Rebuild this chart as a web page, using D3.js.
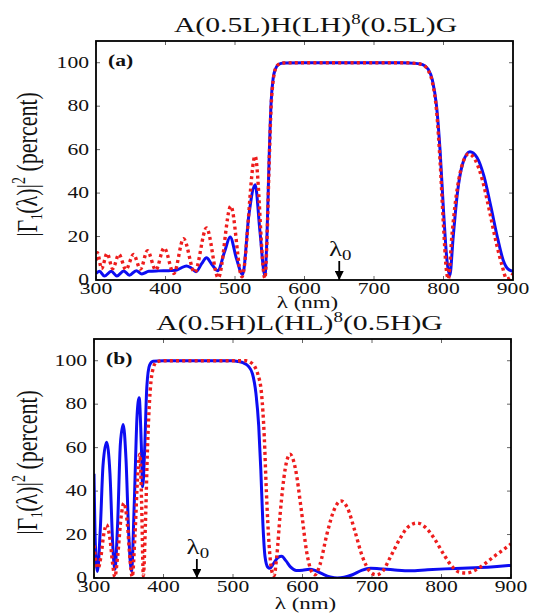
<!DOCTYPE html>
<html lang='en'>

<head>
   <meta charset='UTF-8'>
   <title>Reflectance of the two stacks</title>
   <script src='https://d3js.org/d3.v7.min.js'></script>
   <style>
      body {
         margin: 0;
         background: #fff;
      }

      svg {
         display: block;
      }

      text {
         font-family: 'Liberation Serif', 'DejaVu Serif', 'Times New Roman', serif;
         fill: #111;
      }
   </style>
</head>

<body>
   <div id='chart'></div>
   <script>

      // axis ticks
      const xTicks = [300, 400, 500, 600, 700, 800, 900];
      const yTicks = [0, 20, 40, 60, 80, 100];

      // titles: [before superscript, superscript, after]
      const titleA = ['A(0.5L)H(LH)', '8', '(0.5L)G'];
      const titleB = ['A(0.5H)L(HL)', '8', '(0.5H)G'];

      // centre wavelength marked with the arrow (nm)
      const lambda0A = 650;
      const lambda0B = 448;

      // [wavelength nm, |Γ1|² percent]
      const blueA = [
         [300, 3.0], [305, 4.0], [312, 1.8], [322, 4.0], [330, 1.8], [340, 4.2], [348, 2.2], [358, 4.3],
         [366, 2.8], [376, 4.0], [390, 4.2], [405, 4.3], [415, 4.5], [422, 5.5], [430, 6.5], [437, 5.5],
         [444, 3.8], [452, 7.5], [459, 10.2], [466, 7.5], [475, 4.3], [485, 13], [493, 19.8], [502, 10],
         [511, 2.5], [520, 30], [529, 43.8], [536, 22], [543, 2], [546, 20], [549, 55], [552, 82],
         [555, 93], [558, 97], [563, 99.3], [570, 99.9], [600, 100], [740, 100], [760, 99.7], [770, 99.1],
         [778, 97], [784, 92], [790, 80], [795, 60], [800, 32], [805, 9], [809, 2], [814, 20],
         [820, 40], [828, 54], [838, 59], [848, 56.5], [858, 48], [868, 34], [878, 19], [886, 9],
         [893, 5], [900, 4]
      ];
      const redA = [
         [300, 9], [302, 12.6], [308, 5.2], [316, 12.2], [324, 5.2], [333, 11.8], [343, 4.8], [354, 11.8],
         [364, 5], [374, 13.5], [386, 4.6], [398, 14.8], [412, 3], [426, 19], [442, 3.5], [459, 24],
         [476, 1], [494, 34], [510, 1.5], [529, 57], [543, 0.8], [546, 18], [549, 52], [552, 80],
         [555, 92], [558, 97], [563, 99.3], [570, 99.9], [600, 100], [740, 100], [760, 99.7], [770, 99],
         [778, 96.5], [784, 91], [790, 78], [795, 55], [800, 25], [804, 5], [807, 0.5], [812, 20],
         [818, 38], [826, 52], [836, 58], [846, 55], [856, 46], [866, 32], [876, 17], [884, 7],
         [891, 0.5], [896, 1], [900, 3]
      ];
      const blueB = [
         [300, 48], [302, 15], [305, 3], [309, 22], [313, 52], [318, 62.5], [323, 48], [327, 15],
         [330, 4], [334, 25], [338, 62], [342, 70.7], [346, 55], [350, 20], [354, 3], [358, 35],
         [362, 75], [365, 83], [368, 62], [370, 42], [373, 60], [376, 88], [380, 98], [385, 99.8],
         [400, 100], [500, 100], [508, 99.6], [515, 99], [522, 97.5], [528, 94], [533, 85], [537, 70],
         [540, 50], [543, 25], [546, 10], [550, 5], [553, 4.5], [558, 6.5], [565, 9.5], [570, 10],
         [576, 8], [583, 5], [591, 3.5], [600, 3.6], [610, 4], [618, 3.5], [628, 2], [640, 0.5],
         [650, 0], [660, 0.3], [672, 1.5], [685, 3.5], [698, 4.5], [710, 4.3], [730, 3.8], [755, 3.3],
         [780, 3.8], [805, 4.2], [830, 4.5], [855, 4.8], [880, 5.3], [900, 5.8]
      ];
      const redB = [
         [300, 15], [303, 7], [306, 4.5], [310, 10], [314, 20], [318, 24.5], [323, 18], [327, 6],
         [330, 0.5], [334, 10], [339, 28], [343, 34.5], [348, 25], [352, 8], [355, 0.5], [359, 20],
         [363, 48], [366, 57], [368.5, 35], [371, 1], [374, 25], [377, 60], [380, 82], [384, 95],
         [390, 99.5], [400, 100], [518, 100], [525, 99.3], [531, 97.5], [536, 93.5], [541, 85], [545, 65],
         [548, 40], [552, 15], [556, 3], [559, 1], [563, 10], [568, 30], [575, 50], [582, 57],
         [590, 50], [598, 32], [606, 12], [613, 3], [618, 1.5], [625, 6], [635, 20], [645, 31],
         [655, 35.5], [665, 32], [675, 22], [686, 10], [697, 3], [706, 1.5], [715, 3], [727, 10],
         [740, 18], [752, 23.5], [765, 25.3], [778, 23], [790, 18], [803, 11], [816, 5], [826, 2.6],
         [836, 2.3], [848, 3.5], [862, 6.5], [876, 10], [889, 13], [900, 15.7]
      ];

      const W = 535, H = 615;
      const SX = 1.35; // the picture is stretched sideways, so is its lettering

      const svg = d3.select('#chart').append('svg').attr('width', W).attr('height', H);

      const defs = svg.append('defs');
      defs.append('marker')
         .attr('id', 'arrow-head')
         .attr('viewBox', '0 0 10 10')
         .attr('refX', 10).attr('refY', 5)
         .attr('markerWidth', 10).attr('markerHeight', 9)
         .attr('markerUnits', 'userSpaceOnUse')
         .attr('orient', 'auto')
         .append('path').attr('d', 'M0,0 L10,5 L0,10 Z').attr('fill', '#000');

      // text that is squeezed wider like the lettering in the picture
      const wideText = (parent, x, y, size, anchor) => parent.append('text')
         .attr('transform', `translate(${x}, ${y}) scale(${SX}, 1)`)
         .attr('font-size', size)
         .attr('text-anchor', anchor || 'middle');

      const drawPanel = (cfg) => {
         const x = d3.scaleLinear().domain([300, 900]).range([cfg.left, cfg.right]);
         const y = d3.scaleLinear().domain([0, 110]).range([cfg.bottom, cfg.top]);
         const g = svg.append('g');

         const clipId = 'clip-' + cfg.id;
         defs.append('clipPath').attr('id', clipId)
            .append('rect')
            .attr('x', cfg.left).attr('y', cfg.top)
            .attr('width', cfg.right - cfg.left).attr('height', cfg.bottom - cfg.top);

         // inward ticks on all four sides
         const ticks = g.append('g').attr('stroke', '#666').attr('stroke-width', 1);
         xTicks.forEach(t => {
            ticks.append('line').attr('x1', x(t)).attr('x2', x(t)).attr('y1', cfg.bottom).attr('y2', cfg.bottom - 4);
            ticks.append('line').attr('x1', x(t)).attr('x2', x(t)).attr('y1', cfg.top).attr('y2', cfg.top + 4);
         });
         yTicks.forEach(t => {
            ticks.append('line').attr('x1', cfg.left).attr('x2', cfg.left + 4).attr('y1', y(t)).attr('y2', y(t));
            ticks.append('line').attr('x1', cfg.right).attr('x2', cfg.right - 4).attr('y1', y(t)).attr('y2', y(t));
         });

         xTicks.forEach(t => wideText(g, x(t), cfg.bottom + 14, 16).text(t));
         yTicks.forEach(t => wideText(g, cfg.left - 7, y(t) + 5, 16, 'end').text(t));

         const line = d3.line()
            .x(d => x(d[0]))
            .y(d => y(d[1]))
            .curve(d3.curveMonotoneX);

         const plot = g.append('g').attr('clip-path', `url(#${clipId})`);
         plot.append('path')
            .attr('d', line(cfg.blue))
            .attr('fill', 'none')
            .attr('stroke', '#0d0df2')
            .attr('stroke-width', 3)
            .attr('stroke-linejoin', 'round');
         plot.append('path')
            .attr('d', line(cfg.red))
            .attr('fill', 'none')
            .attr('stroke', '#ee1d1d')
            .attr('stroke-width', 3.4)
            .style('stroke-dasharray', ('3, 3.2'));

         g.append('rect')
            .attr('x', cfg.left).attr('y', cfg.top)
            .attr('width', cfg.right - cfg.left).attr('height', cfg.bottom - cfg.top)
            .attr('fill', 'none').attr('stroke', '#000').attr('stroke-width', 1.8);

         // title with superscript
         const title = wideText(g, (cfg.left + cfg.right) / 2 + cfg.titleShift, cfg.top - 9, 22);
         title.append('tspan').text(cfg.title[0]);
         title.append('tspan').attr('dy', -8).attr('font-size', 14).text(cfg.title[1]);
         title.append('tspan').attr('dy', 8).text(cfg.title[2]);

         // panel letter
         wideText(g, cfg.left + 12, cfg.top + 25, 16, 'start')
            .attr('font-weight', 'bold').text(cfg.tag);

         // x label
         wideText(g, (cfg.left + cfg.right) / 2 + 3, cfg.bottom + cfg.xLabelGap, 17).text('λ (nm)');

         // y label, rotated
         const yl = g.append('text')
            .attr('transform', `translate(37, ${(cfg.top + cfg.bottom) / 2 + 4}) scale(${SX}, 1) rotate(-90)`)
            .attr('font-size', 22)
            .attr('text-anchor', 'middle');
         yl.append('tspan').text('|Γ');
         yl.append('tspan').attr('dy', 4).attr('font-size', 12).text('1');
         yl.append('tspan').attr('dy', -4).text('(λ)|');
         yl.append('tspan').attr('dy', -9).attr('font-size', 14).text('2');
         yl.append('tspan').attr('dy', 9).text(' (percent)');

         // λ0 arrow
         g.append('line')
            .attr('x1', x(cfg.lambda0)).attr('x2', x(cfg.lambda0))
            .attr('y1', cfg.bottom - 19).attr('y2', cfg.bottom)
            .attr('stroke', '#000').attr('stroke-width', 1.8)
            .attr('marker-end', 'url(#arrow-head)');
         const lab = wideText(g, x(cfg.lambda0) + 1, cfg.bottom - 24, 20);
         lab.append('tspan').text('λ');
         lab.append('tspan').attr('dy', 4).attr('font-size', 14).text('0');
      };

      drawPanel({
         id: 'a', tag: '(a)', left: 96, right: 513, top: 41, bottom: 280, titleShift: 11, xLabelGap: 28,
         title: titleA, blue: blueA, red: redA, lambda0: lambda0A
      });
      drawPanel({
         id: 'b', tag: '(b)', left: 94, right: 511, top: 339, bottom: 578, titleShift: -3, xLabelGap: 31,
         title: titleB, blue: blueB, red: redB, lambda0: lambda0B
      });

   </script>
</body>

</html>
